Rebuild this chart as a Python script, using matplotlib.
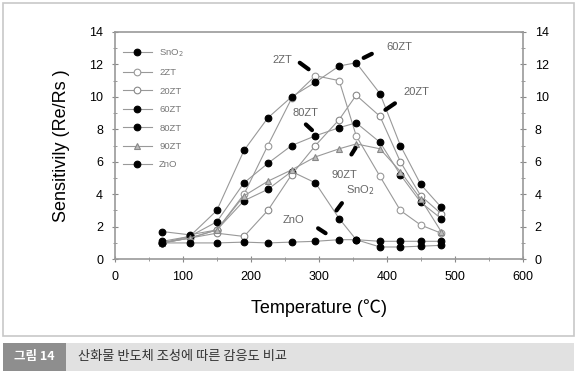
import matplotlib.pyplot as plt
from matplotlib.patches import Rectangle
from matplotlib.ticker import MultipleLocator

plt.rcParams['font.family'] = ['Liberation Sans', 'DejaVu Sans']

# measurement temperatures (C)
temps = [70, 110, 150, 190, 225, 260, 295, 330, 355, 390, 420, 450, 480]

# sensitivity (Re/Rs)
sno2 = [1.7, 1.5, 1.8, 3.6, 4.3, 5.4, 4.7, 2.5, 1.2, 0.75, 0.75, 0.8, 0.85]
zt2 = [1.0, 1.3, 1.8, 4.0, 7.0, 9.9, 11.3, 11.0, 7.6, 5.1, 3.0, 2.1, 1.6]
zt20 = [1.0, 1.3, 1.6, 1.4, 3.0, 5.2, 7.0, 8.6, 10.1, 8.8, 6.0, 3.9, 2.8]
zt60 = [1.0, 1.4, 3.0, 6.7, 8.7, 10.0, 10.9, 11.9, 12.1, 10.2, 7.0, 4.6, 3.2]
zt80 = [1.1, 1.4, 2.3, 4.7, 5.9, 7.0, 7.6, 8.1, 8.4, 7.2, 5.2, 3.5, 2.5]
zt90 = [1.0, 1.3, 1.8, 3.9, 4.8, 5.5, 6.3, 6.8, 7.1, 6.8, 5.4, 3.7, 1.7]
zno = [1.0, 1.0, 1.0, 1.05, 1.0, 1.05, 1.1, 1.2, 1.2, 1.1, 1.1, 1.1, 1.1]

series = [
    ('SnO$_2$', sno2, 'o', 'black', 'black'),
    ('2ZT', zt2, 'o', 'white', '#999999'),
    ('20ZT', zt20, 'o', 'white', '#888888'),
    ('60ZT', zt60, 'o', 'black', 'black'),
    ('80ZT', zt80, 'o', 'black', 'black'),
    ('90ZT', zt90, '^', '#bbbbbb', '#888888'),
    ('ZnO', zno, 'o', 'black', 'black'),
]

# curve labels: text, text position, pointer start, pointer end
labels = [
    ('2ZT', (247, 12.3), (272, 12.1), (285, 11.7)),
    ('60ZT', (419, 13.1), (378, 12.65), (366, 12.4)),
    ('20ZT', (443, 10.3), (412, 9.6), (398, 9.2)),
    ('80ZT', (281, 9.0), (281, 8.3), (290, 7.95)),
    ('90ZT', (338, 5.2), (348, 6.45), (354, 6.85)),
    ('SnO$_2$', (361, 4.25), (334, 3.45), (326, 3.0)),
    ('ZnO', (262, 2.4), (299, 1.9), (310, 1.6)),
]

fig = plt.figure(figsize=(5.77, 3.80), dpi=100)

# outer frame and caption bar
fig.patches.append(Rectangle((0.006, 0.115), 0.988, 0.878, transform=fig.transFigure,
                             fill=False, edgecolor='#c8c8c8', lw=1.2))
fig.patches.append(Rectangle((0.006, 0.025), 0.988, 0.072, transform=fig.transFigure,
                             facecolor='#e1e1e1', edgecolor='none'))
fig.patches.append(Rectangle((0.006, 0.025), 0.108, 0.072, transform=fig.transFigure,
                             facecolor='#8e8e8e', edgecolor='none'))
fig.text(0.06, 0.061, '그림 14', color='white', fontsize=9, ha='center', va='center',
         fontweight='bold', family=['Noto Sans CJK KR', 'DejaVu Sans'])
fig.text(0.135, 0.061, '산화물 반도체 조성에 따른 감응도 비교', color='#333333', fontsize=9.5,
         ha='left', va='center', family=['Noto Sans CJK KR', 'DejaVu Sans'])

ax = fig.add_axes([0.199, 0.318, 0.707, 0.598])
for name, vals, mk, fc, ec in series:
    ax.plot(temps, vals, color='#999999', lw=0.8, marker=mk, markersize=4.8,
            markerfacecolor=fc, markeredgecolor=ec, markeredgewidth=0.8, label=name)

for txt, pos, p0, p1 in labels:
    ax.text(pos[0], pos[1], txt, fontsize=8, color='#666666', ha='center', va='center')
    ax.plot([p0[0], p1[0]], [p0[1], p1[1]], color='black', lw=3, solid_capstyle='round')

ax.set_xlim(0, 600)
ax.set_ylim(0, 14)
ax.xaxis.set_major_locator(MultipleLocator(100))
ax.xaxis.set_minor_locator(MultipleLocator(50))
ax.yaxis.set_major_locator(MultipleLocator(2))
ax.yaxis.set_minor_locator(MultipleLocator(1))
ax.tick_params(which='both', direction='inout', color='#888888', labelsize=9, pad=6,
               right=True, labelright=True)
ax.tick_params(which='major', length=5)
ax.tick_params(which='minor', length=3)
for s in ax.spines.values():
    s.set_color('#999999')
    s.set_linewidth(1.2)

ax.set_ylabel('Sensitivily (Re/Rs )', fontsize=13, labelpad=14)
ax.set_xlabel('Temperature (℃)', fontsize=13, labelpad=12,
              family=['Liberation Sans', 'Noto Sans CJK KR'])

leg = ax.legend(loc='upper left', frameon=False, fontsize=6.8, labelspacing=1.0,
                handlelength=3.0, bbox_to_anchor=(0.0, 0.97))
for t in leg.get_texts():
    t.set_color('#777777')

fig.savefig('out.png', dpi=100)
